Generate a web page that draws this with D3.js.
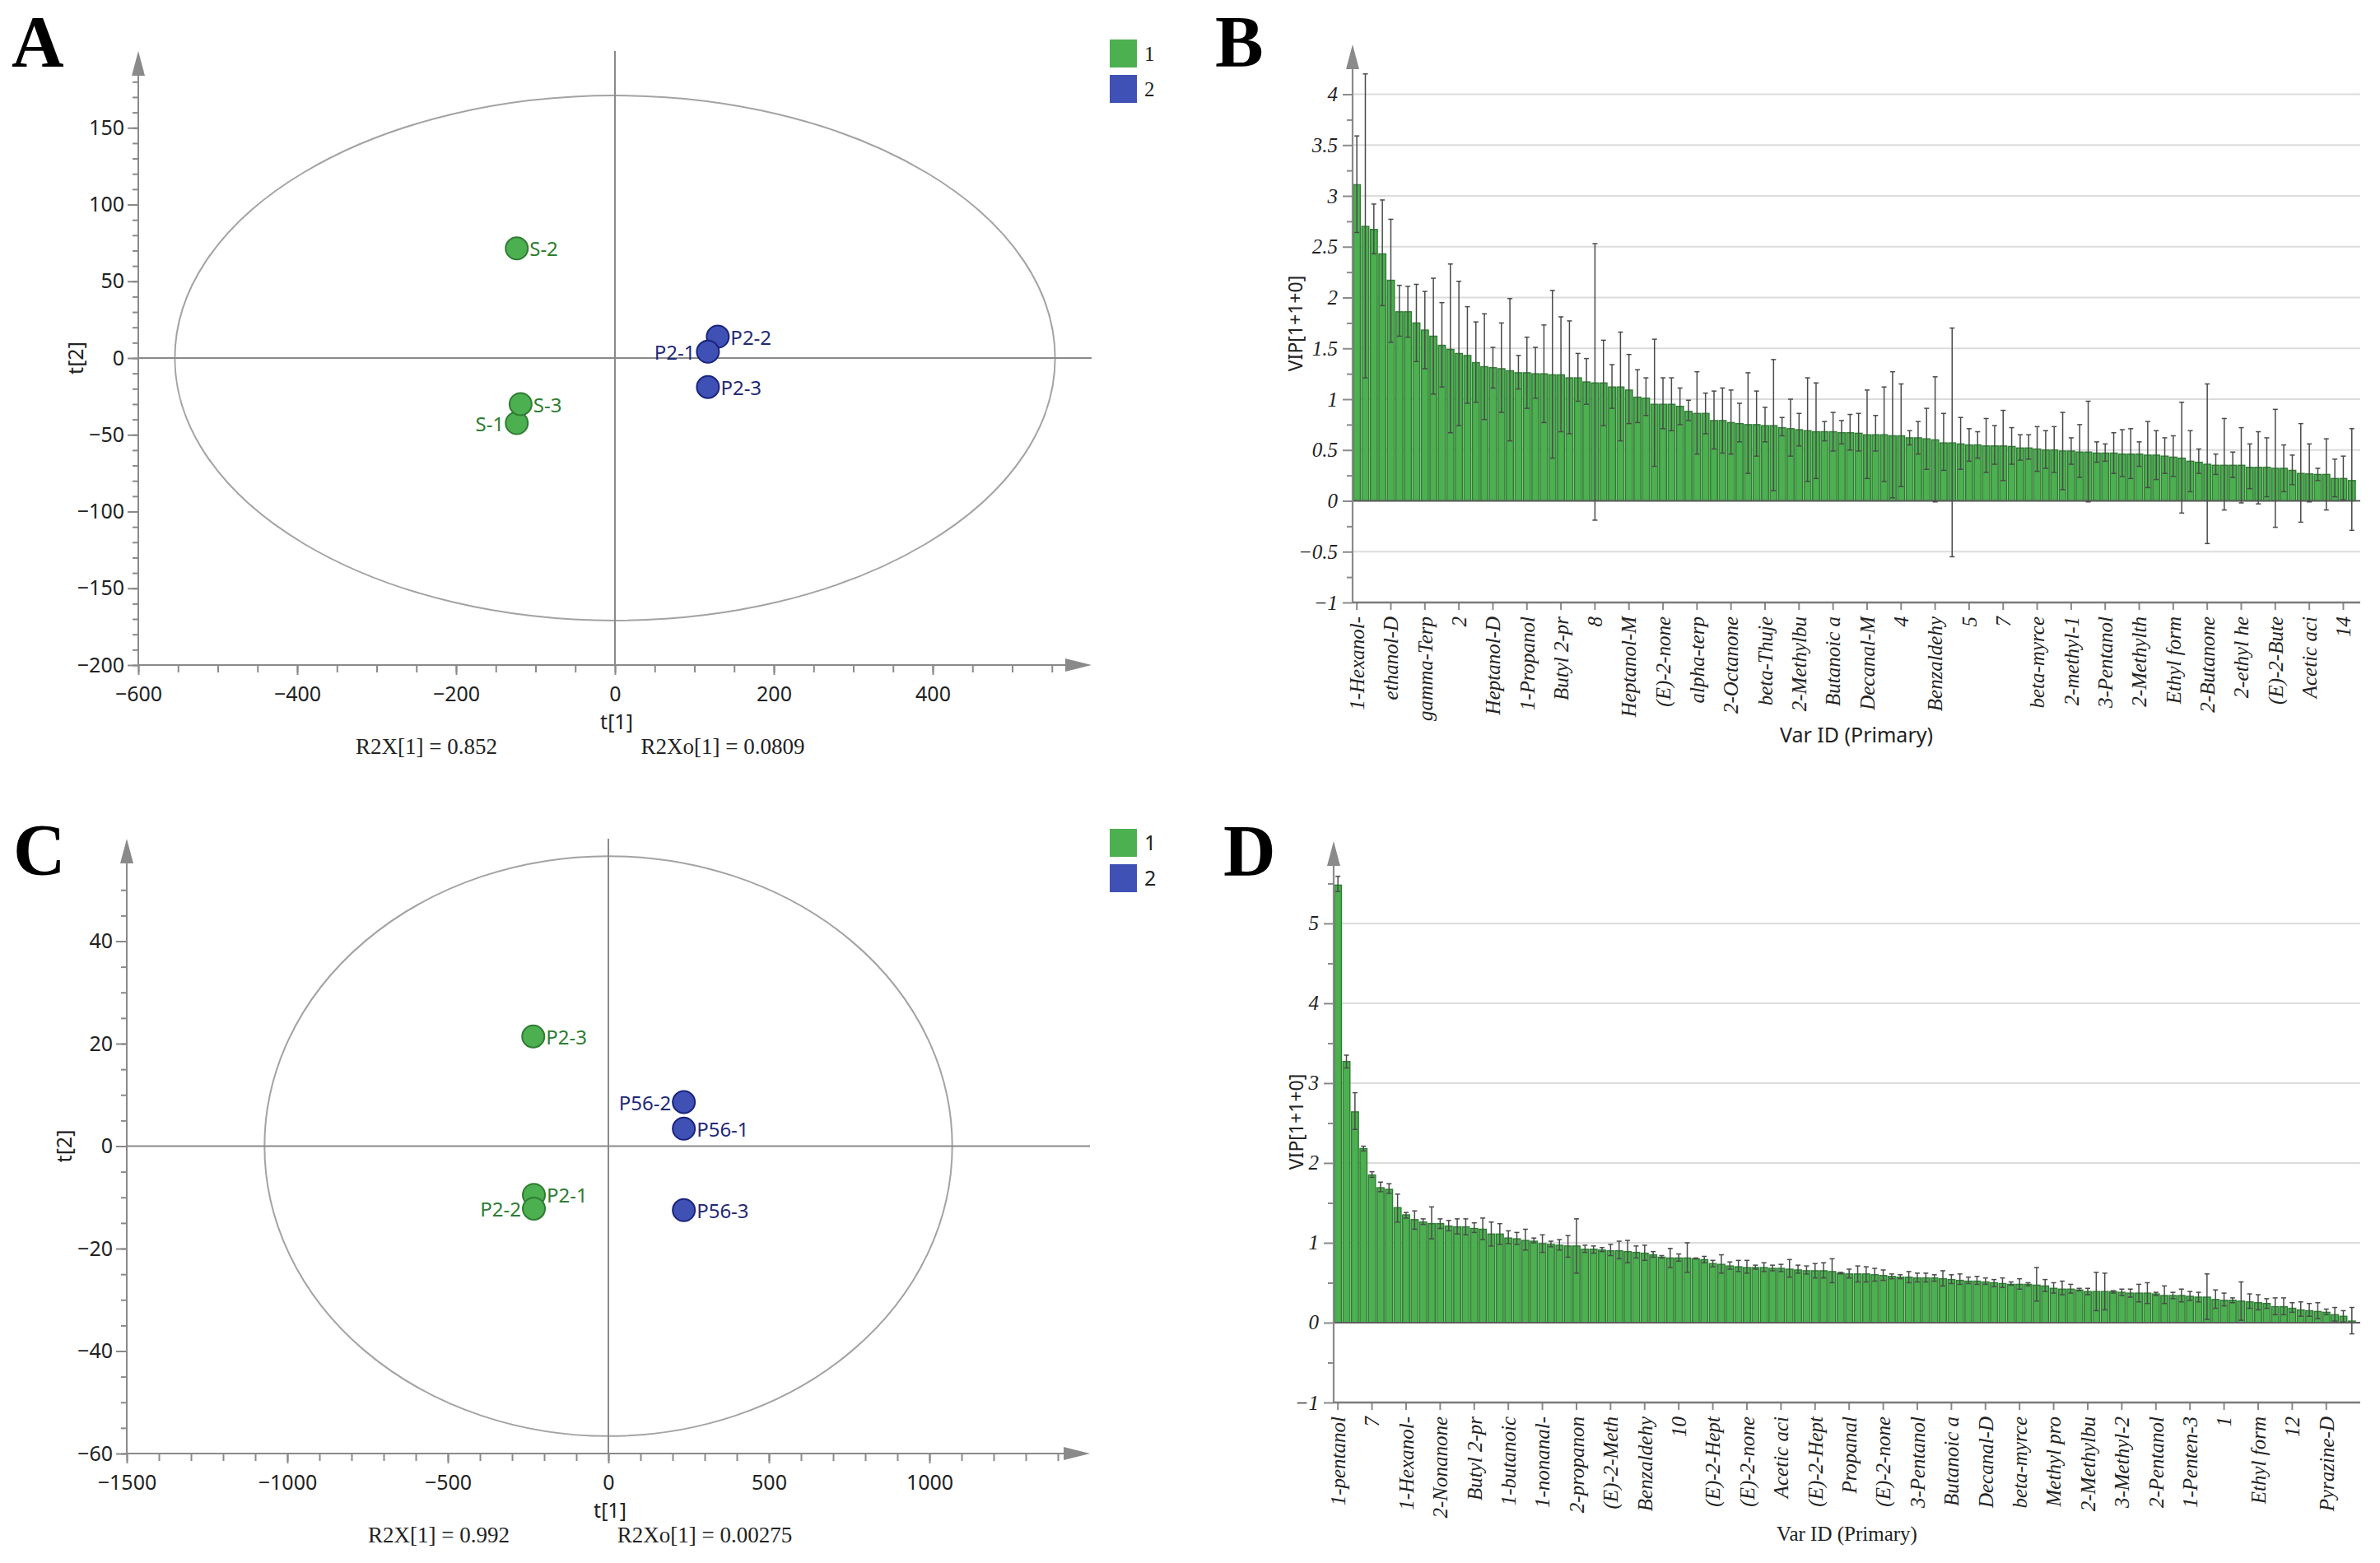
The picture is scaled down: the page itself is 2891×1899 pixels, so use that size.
<!DOCTYPE html>
<html>
<head>
<meta charset="utf-8">
<script src="https://cdn.jsdelivr.net/npm/d3@7"></script>
<style>
  body { margin: 0; background: #fff; }
</style>
</head>
<body>
<div id="chart"></div>
<script>
// ---------- data ----------
// A: OPLS-DA scores, S vs P2
var aNames = ['S-1', 'S-3', 'S-2', 'P2-2', 'P2-1', 'P2-3'];
var aT1 = [-123.6, -118.8, -123.6, 129.4, 117, 117];
var aT2 = [-42.4, -30, 71.4, 13.9, 4.1, -18.9];
var aGroup = [1, 1, 1, 2, 2, 2];
var aEllipse = [554, 171];          // T2 ellipse half axes (t1, t2)
var aR2 = ['R2X[1] = 0.852', 'R2Xo[1] = 0.0809'];

// C: OPLS-DA scores, P2 vs P56
var cNames = ['P2-3', 'P2-1', 'P2-2', 'P56-2', 'P56-1', 'P56-3'];
var cT1 = [-234, -232, -232, 235, 235, 235];
var cT2 = [21.4, -9.5, -12.2, 8.6, 3.4, -12.5];
var cGroup = [1, 1, 1, 2, 2, 2];
var cEllipse = [1071, 56.6];
var cR2 = ['R2X[1] = 0.992', 'R2Xo[1] = 0.00275'];

var legendGroups = ['1', '2'];

// B: VIP values with jack-knifed confidence limits
var bVip = [3.11, 2.70, 2.67, 2.43, 2.17, 1.86, 1.86, 1.75, 1.68, 1.62, 1.53, 1.49, 1.45, 1.43, 1.36, 1.32, 1.31, 1.30, 1.28, 1.26,
  1.26, 1.25, 1.25, 1.24, 1.24, 1.21, 1.21, 1.17, 1.16, 1.16, 1.12, 1.12, 1.09, 1.02, 1.01, 0.95, 0.95, 0.95, 0.93, 0.88,
  0.86, 0.86, 0.79, 0.79, 0.77, 0.76, 0.75, 0.75, 0.74, 0.74, 0.72, 0.71, 0.70, 0.69, 0.68, 0.68, 0.68, 0.67, 0.67, 0.665,
  0.65, 0.65, 0.65, 0.64, 0.64, 0.62, 0.62, 0.61, 0.60, 0.57, 0.57, 0.56, 0.55, 0.55, 0.54, 0.54, 0.54, 0.535, 0.52, 0.52,
  0.51, 0.50, 0.50, 0.49, 0.49, 0.48, 0.48, 0.47, 0.47, 0.47, 0.46, 0.46, 0.46, 0.45, 0.45, 0.44, 0.43, 0.42, 0.39, 0.38,
  0.36, 0.35, 0.35, 0.35, 0.35, 0.33, 0.33, 0.33, 0.32, 0.32, 0.30, 0.27, 0.265, 0.26, 0.26, 0.22, 0.22, 0.20];
var bHigh = [3.59, 4.20, 2.92, 2.96, 2.77, 2.12, 2.11, 2.13, 2.06, 2.19, 1.95, 2.33, 2.16, 1.91, 1.76, 1.84, 1.51, 1.75, 1.99, 1.43,
  1.61, 1.51, 1.73, 2.07, 1.81, 1.77, 1.45, 1.40, 2.53, 1.58, 1.34, 1.66, 1.44, 1.29, 1.21, 1.59, 1.21, 1.21, 1.11, 0.99,
  1.27, 1.06, 1.08, 1.11, 1.09, 0.96, 1.26, 1.08, 0.92, 1.39, 0.82, 1.00, 0.86, 1.21, 1.16, 0.78, 0.87, 0.79, 0.85, 0.86,
  1.09, 0.84, 1.12, 1.27, 1.15, 0.69, 0.78, 0.91, 1.22, 0.86, 1.70, 0.82, 0.71, 0.68, 0.81, 0.74, 0.89, 0.72, 0.65, 0.65,
  0.73, 0.69, 0.73, 0.87, 0.62, 0.75, 0.98, 0.58, 0.56, 0.67, 0.70, 0.71, 0.58, 0.78, 0.69, 0.62, 0.64, 0.97, 0.69, 0.51,
  1.15, 0.46, 0.81, 0.48, 0.72, 0.56, 0.68, 0.62, 0.90, 0.55, 0.45, 0.76, 0.56, 0.32, 0.61, 0.41, 0.44, 0.71];
var bLow = [2.64, 1.21, 2.43, 1.92, 1.56, 1.62, 1.61, 1.37, 1.30, 1.05, 1.12, 0.67, 0.74, 0.96, 0.97, 0.80, 1.11, 0.87, 0.59, 1.10,
  0.91, 1.01, 0.77, 0.42, 0.68, 0.66, 0.98, 0.95, -0.19, 0.74, 0.91, 0.59, 0.76, 0.77, 0.84, 0.34, 0.71, 0.69, 0.75, 0.79,
  0.46, 0.66, 0.51, 0.47, 0.46, 0.58, 0.27, 0.44, 0.58, 0.10, 0.64, 0.44, 0.54, 0.19, 0.22, 0.59, 0.49, 0.56, 0.50, 0.49,
  0.22, 0.49, 0.19, 0.03, 0.14, 0.55, 0.46, 0.31, -0.01, 0.30, -0.55, 0.31, 0.39, 0.42, 0.28, 0.36, 0.20, 0.36, 0.40, 0.41,
  0.29, 0.32, 0.28, 0.11, 0.36, 0.23, -0.01, 0.38, 0.39, 0.27, 0.24, 0.22, 0.34, 0.13, 0.21, 0.27, 0.24, -0.12, 0.09, 0.27,
  -0.42, 0.26, -0.09, 0.23, -0.02, 0.12, -0.03, 0.04, -0.26, 0.09, 0.16, -0.21, -0.01, 0.20, -0.09, 0.04, 0.01, -0.29];
var bTickLabels = ['1-Hexanol-', 'ethanol-D', 'gamma-Terp', '2', 'Heptanol-D', '1-Propanol', 'Butyl 2-pr', '8', 'Heptanol-M', '(E)-2-none',
  'alpha-terp', '2-Octanone', 'beta-Thuje', '2-Methylbu', 'Butanoic a', 'Decanal-M', '4', 'Benzaldehy', '5', '7',
  'beta-myrce', '2-methyl-1', '3-Pentanol', '2-Methylth', 'Ethyl form', '2-Butanone', '2-ethyl he', '(E)-2-Bute', 'Acetic aci', '14'];

// D: VIP values with jack-knifed confidence limits
var dVip = [5.48, 3.27, 2.64, 2.18, 1.85, 1.69, 1.67, 1.44, 1.35, 1.29, 1.26, 1.24, 1.24, 1.21, 1.20, 1.20, 1.18, 1.17, 1.11, 1.11,
  1.06, 1.05, 1.03, 1.02, 0.99, 0.98, 0.97, 0.96, 0.96, 0.92, 0.92, 0.91, 0.90, 0.90, 0.89, 0.88, 0.87, 0.85, 0.82, 0.81,
  0.81, 0.81, 0.80, 0.79, 0.74, 0.73, 0.71, 0.70, 0.69, 0.69, 0.69, 0.68, 0.68, 0.67, 0.66, 0.65, 0.65, 0.65, 0.64, 0.62,
  0.61, 0.61, 0.61, 0.60, 0.59, 0.58, 0.57, 0.57, 0.56, 0.56, 0.56, 0.55, 0.54, 0.53, 0.52, 0.52, 0.51, 0.50, 0.49, 0.48,
  0.48, 0.48, 0.47, 0.46, 0.43, 0.42, 0.42, 0.41, 0.39, 0.39, 0.39, 0.39, 0.38, 0.37, 0.37, 0.37, 0.36, 0.34, 0.34, 0.34,
  0.33, 0.32, 0.32, 0.29, 0.28, 0.28, 0.27, 0.26, 0.25, 0.24, 0.20, 0.20, 0.18, 0.16, 0.15, 0.14, 0.13, 0.10, 0.08, 0.02];
var dHigh = [5.59, 3.35, 2.88, 2.21, 1.89, 1.76, 1.74, 1.61, 1.38, 1.40, 1.30, 1.45, 1.30, 1.28, 1.30, 1.30, 1.25, 1.31, 1.26, 1.24,
  1.15, 1.13, 1.17, 1.06, 1.10, 1.02, 1.04, 1.09, 1.30, 0.97, 0.96, 0.94, 0.98, 1.02, 1.03, 0.96, 0.97, 0.89, 0.84, 0.93,
  0.86, 1.00, 0.81, 0.83, 0.78, 0.85, 0.76, 0.78, 0.78, 0.72, 0.75, 0.72, 0.73, 0.79, 0.72, 0.71, 0.74, 0.75, 0.80, 0.63,
  0.67, 0.71, 0.70, 0.68, 0.66, 0.61, 0.60, 0.64, 0.62, 0.62, 0.60, 0.65, 0.60, 0.61, 0.57, 0.58, 0.56, 0.54, 0.56, 0.51,
  0.55, 0.50, 0.69, 0.54, 0.50, 0.52, 0.48, 0.43, 0.43, 0.63, 0.62, 0.40, 0.42, 0.42, 0.48, 0.50, 0.38, 0.46, 0.38, 0.42,
  0.39, 0.38, 0.61, 0.41, 0.37, 0.31, 0.51, 0.36, 0.35, 0.30, 0.31, 0.31, 0.25, 0.26, 0.24, 0.25, 0.17, 0.19, 0.15, 0.19];
var dLow = [5.40, 3.19, 2.42, 2.15, 1.82, 1.64, 1.62, 1.26, 1.31, 1.17, 1.23, 1.05, 1.18, 1.15, 1.11, 1.10, 1.13, 1.04, 0.96, 0.98,
  0.99, 0.98, 0.91, 1.00, 0.88, 0.95, 0.91, 0.82, 0.62, 0.88, 0.87, 0.89, 0.84, 0.80, 0.75, 0.81, 0.78, 0.82, 0.81, 0.69,
  0.77, 0.63, 0.80, 0.75, 0.70, 0.62, 0.67, 0.64, 0.62, 0.67, 0.64, 0.65, 0.64, 0.57, 0.62, 0.61, 0.56, 0.56, 0.50, 0.61,
  0.56, 0.51, 0.51, 0.52, 0.53, 0.55, 0.55, 0.50, 0.51, 0.51, 0.52, 0.46, 0.49, 0.48, 0.49, 0.48, 0.48, 0.45, 0.44, 0.47,
  0.42, 0.46, 0.27, 0.39, 0.37, 0.35, 0.37, 0.40, 0.35, 0.15, 0.16, 0.37, 0.34, 0.32, 0.26, 0.24, 0.34, 0.24, 0.30, 0.26,
  0.28, 0.26, 0.04, 0.18, 0.21, 0.25, 0.03, 0.18, 0.16, 0.18, 0.10, 0.10, 0.13, 0.08, 0.08, 0.05, 0.10, 0.02, 0.01, -0.14];
var dTickLabels = ['1-pentanol', '7', '1-Hexanol-', '2-Nonanone', 'Butyl 2-pr', '1-butanoic', '1-nonanal-', '2-propanon', '(E)-2-Meth', 'Benzaldehy',
  '10', '(E)-2-Hept', '(E)-2-none', 'Acetic aci', '(E)-2-Hept', 'Propanal', '(E)-2-none', '3-Pentanol', 'Butanoic a', 'Decanal-D',
  'beta-myrce', 'Methyl pro', '2-Methylbu', '3-Methyl-2', '2-Pentanol', '1-Penten-3', '1', 'Ethyl form', '12', 'Pyrazine-D'];

// ---------- style ----------
var SANS = '"Noto Sans", "Open Sans", sans-serif';
var SERIF = '"Liberation Serif", "DejaVu Serif", serif';
var axisC = '#8a8a8a';
var fillC = {1: '#4caf50', 2: '#3f51b5'};
var edgeC = {1: '#2e7d32', 2: '#1a237e'};
var textC = {1: '#2e7d32', 2: '#1f2a78'};
var barFill = '#4caf50', barEdge = '#2e7d32';

var svg = d3.select('#chart').append('svg')
  .attr('width', 2891).attr('height', 1899)
  .style('background', '#fff');

function minus(v) {
  return (v < 0 ? '\u2212' : '') + Math.abs(+v.toFixed(2));
}

// arrow head pointing up (dir='up') or right
function arrow(g, x, y, dir) {
  var p = dir === 'up'
    ? [[x, y], [x - 8, y + 30], [x + 8, y + 30]]
    : [[x, y], [x - 32, y - 8], [x - 32, y + 8]];
  g.append('path').attr('d', 'M' + p.join('L') + 'Z').attr('fill', axisC);
}

function styleAxis(g, font, size, italic) {
  g.select('.domain').remove();
  g.selectAll('line').attr('stroke', axisC).attr('stroke-width', 2);
  g.selectAll('text').attr('fill', '#222')
    .attr('font-family', font).attr('font-size', size)
    .attr('font-style', italic ? 'italic' : 'normal');
}

// ---------- score plot (A, C) ----------
function scorePlot(o) {
  var g = svg.append('g');
  var x = d3.scaleLinear().domain(o.xDomain).range(o.xRange);
  var y = d3.scaleLinear().domain(o.yDomain).range(o.yRange);
  var left = o.xRange[0], right = o.xRange[1], bottom = o.yRange[0], top = o.yRange[1];

  // Hotelling T2 ellipse
  g.append('ellipse')
    .attr('cx', x(0)).attr('cy', y(0))
    .attr('rx', x(o.ellipse[0]) - x(0)).attr('ry', y(0) - y(o.ellipse[1]))
    .attr('fill', 'none').attr('stroke', '#a3a3a3').attr('stroke-width', 2);

  // zero lines
  g.append('line').attr('x1', x(0)).attr('y1', top).attr('x2', x(0)).attr('y2', bottom)
    .attr('stroke', axisC).attr('stroke-width', 2);
  g.append('line').attr('x1', left).attr('y1', y(0)).attr('x2', right).attr('y2', y(0))
    .attr('stroke', axisC).attr('stroke-width', 2);

  // axis lines + arrows
  g.append('line').attr('x1', left).attr('y1', bottom).attr('x2', right - 30).attr('y2', bottom)
    .attr('stroke', axisC).attr('stroke-width', 2);
  g.append('line').attr('x1', left).attr('y1', bottom).attr('x2', left).attr('y2', top + 30)
    .attr('stroke', axisC).attr('stroke-width', 2);
  arrow(g, right, bottom, 'right');
  arrow(g, left, top, 'up');

  // ticks
  var xMinor = d3.range(o.xDomain[0], o.xDomain[1], o.xStep[1]).filter(function (v) { return x(v) < right - 36; });
  var yMinor = d3.range(o.yDomain[0], o.yDomain[1], o.yStep[1]).filter(function (v) { return y(v) > top + 36; });
  var xMajor = xMinor.filter(function (v) { return Math.abs(v % o.xStep[0]) < 1e-6; });
  var yMajor = yMinor.filter(function (v) { return Math.abs(v % o.yStep[0]) < 1e-6; });

  var gx = g.append('g').attr('transform', 'translate(0,' + bottom + ')');
  gx.call(d3.axisBottom(x).tickValues(xMinor).tickSize(9).tickFormat(''));
  styleAxis(gx);
  var gx2 = g.append('g').attr('transform', 'translate(0,' + bottom + ')');
  gx2.call(d3.axisBottom(x).tickValues(xMajor).tickSize(12).tickPadding(14).tickFormat(d3.format('')));
  styleAxis(gx2, SANS, 25);

  var gy = g.append('g').attr('transform', 'translate(' + left + ',0)');
  gy.call(d3.axisLeft(y).tickValues(yMinor).tickSize(7).tickFormat(''));
  styleAxis(gy);
  var gy2 = g.append('g').attr('transform', 'translate(' + left + ',0)');
  gy2.call(d3.axisLeft(y).tickValues(yMajor).tickSize(13).tickPadding(4).tickFormat(d3.format('')));
  styleAxis(gy2, SANS, 25);

  // axis titles
  g.append('text').text('t[2]')
    .attr('transform', 'translate(' + (left - 76) + ',' + y(0) + ') rotate(-90)')
    .attr('text-anchor', 'middle').attr('dy', '0.35em')
    .attr('font-family', SANS).attr('font-size', 25).attr('fill', '#222');
  g.append('text').text('t[1]')
    .attr('x', x(0) + 2).attr('y', bottom + 78)
    .attr('text-anchor', 'middle')
    .attr('font-family', SANS).attr('font-size', 25).attr('fill', '#222');
  g.selectAll('.r2').data(o.r2).enter().append('text')
    .text(function (d) { return d; })
    .attr('x', function (d, i) { return o.r2x[i]; }).attr('y', bottom + 108)
    .attr('text-anchor', 'middle')
    .attr('font-family', SERIF).attr('font-size', 27).attr('fill', '#222');

  // points
  var r = 13.5;
  var pts = g.selectAll('.pt').data(o.names).enter().append('g');
  pts.append('circle')
    .attr('cx', function (d, i) { return x(o.t1[i]); })
    .attr('cy', function (d, i) { return y(o.t2[i]); })
    .attr('r', r)
    .attr('fill', function (d, i) { return fillC[o.group[i]]; })
    .attr('stroke', function (d, i) { return edgeC[o.group[i]]; })
    .attr('stroke-width', 2);
  pts.append('text').text(function (d) { return d; })
    .attr('x', function (d, i) { return o.leftLabels.indexOf(d) >= 0 ? x(o.t1[i]) - r - 2 : x(o.t1[i]) + r + 2; })
    .attr('y', function (d, i) { return y(o.t2[i]); })
    .attr('dy', '0.4em')
    .attr('text-anchor', function (d) { return o.leftLabels.indexOf(d) >= 0 ? 'end' : 'start'; })
    .attr('font-family', SANS).attr('font-size', 24)
    .attr('fill', function (d, i) { return textC[o.group[i]]; });

  // legend
  var lg = g.selectAll('.lg').data(legendGroups).enter().append('g');
  lg.append('rect')
    .attr('x', 1348).attr('y', function (d, i) { return o.legendY + i * 43; })
    .attr('width', 33).attr('height', 34)
    .attr('fill', function (d) { return fillC[d]; });
  lg.append('text').text(function (d) { return d; })
    .attr('x', 1390).attr('y', function (d, i) { return o.legendY + i * 43 + 26; })
    .attr('font-family', o.legendFont).attr('font-size', 25).attr('fill', '#222');

  // panel letter
  g.append('text').text(o.letter)
    .attr('x', o.letterPos[0]).attr('y', o.letterPos[1])
    .attr('font-family', SERIF).attr('font-weight', 'bold').attr('font-size', 88).attr('fill', '#000');
}

// ---------- VIP bar plot (B, D) ----------
function vipPlot(o) {
  var g = svg.append('g');
  var n = o.vip.length;
  var idx = d3.range(n);
  var x = d3.scaleBand().domain(idx).range([o.left, o.left + n * o.bw]).paddingInner(0);
  var y = d3.scaleLinear().domain(o.yDomain).range(o.yRange);
  var bottom = o.yRange[0], top = o.yRange[1], right = 2867;

  // grid lines at labelled ticks
  var major = d3.range(o.yDomain[0], o.yMax + 1e-6, o.yStep[0]).map(function (v) { return +v.toFixed(2); });
  var minor = d3.range(o.yDomain[0], o.yMinorMax + 1e-6, o.yStep[1]).map(function (v) { return +v.toFixed(2); });
  g.selectAll('.grid').data(major.filter(function (v) { return v !== 0 && v !== o.yDomain[0]; }))
    .enter().append('line')
    .attr('x1', o.left).attr('x2', right)
    .attr('y1', function (d) { return y(d); }).attr('y2', function (d) { return y(d); })
    .attr('stroke', '#dcdcdc').attr('stroke-width', 2);

  // bars
  g.selectAll('.bar').data(o.vip).enter().append('rect')
    .attr('x', function (d, i) { return x(i) + 0.9; })
    .attr('width', x.bandwidth() - 1.8)
    .attr('y', function (d) { return y(Math.max(0, d)); })
    .attr('height', function (d) { return Math.abs(y(d) - y(0)); })
    .attr('fill', barFill).attr('stroke', barEdge).attr('stroke-width', 1.4);

  // zero line
  g.append('line').attr('x1', o.left).attr('x2', right).attr('y1', y(0)).attr('y2', y(0))
    .attr('stroke', '#5c5c5c').attr('stroke-width', 2.2);

  // error bars
  var cx = function (i) { return x(i) + x.bandwidth() / 2; };
  var eb = g.selectAll('.err').data(o.vip).enter().append('g')
    .attr('stroke', '#4a4a4a').attr('stroke-width', 1.5);
  eb.append('line')
    .attr('x1', function (d, i) { return cx(i); }).attr('x2', function (d, i) { return cx(i); })
    .attr('y1', function (d, i) { return y(o.high[i]); }).attr('y2', function (d, i) { return y(o.low[i]); });
  eb.append('line')
    .attr('x1', function (d, i) { return cx(i) - 3; }).attr('x2', function (d, i) { return cx(i) + 3; })
    .attr('y1', function (d, i) { return y(o.high[i]); }).attr('y2', function (d, i) { return y(o.high[i]); });
  eb.append('line')
    .attr('x1', function (d, i) { return cx(i) - 3; }).attr('x2', function (d, i) { return cx(i) + 3; })
    .attr('y1', function (d, i) { return y(o.low[i]); }).attr('y2', function (d, i) { return y(o.low[i]); });

  // y axis
  var gy = g.append('g').attr('transform', 'translate(' + o.left + ',0)');
  gy.call(d3.axisLeft(y).tickValues(minor.filter(function (v) { return major.indexOf(v) < 0; })).tickSize(7).tickFormat(''));
  styleAxis(gy);
  var gy2 = g.append('g').attr('transform', 'translate(' + o.left + ',0)');
  gy2.call(d3.axisLeft(y).tickValues(major).tickSize(12).tickPadding(6).tickFormat(minus));
  styleAxis(gy2, SERIF, 25, true);
  g.append('line').attr('x1', o.left).attr('x2', o.left).attr('y1', bottom).attr('y2', top + 30)
    .attr('stroke', axisC).attr('stroke-width', 2.2);
  arrow(g, o.left, top, 'up');

  // x axis with every 4th variable labelled
  var gx = g.append('g').attr('transform', 'translate(0,' + bottom + ')');
  gx.call(d3.axisBottom(x)
    .tickValues(o.labels.map(function (d, i) { return i * 4; }))
    .tickSize(9)
    .tickFormat(function (d) { return o.labels[d / 4]; }));
  styleAxis(gx, SERIF, 25, true);
  gx.selectAll('text')
    .attr('transform', 'rotate(-90)')
    .attr('x', -17).attr('y', 0).attr('dy', '0.35em')
    .attr('text-anchor', 'end');
  g.append('line').attr('x1', o.left).attr('x2', right).attr('y1', bottom).attr('y2', bottom)
    .attr('stroke', '#7a7a7a').attr('stroke-width', 2.5);

  // titles
  g.append('text').text('VIP[1+1+0]')
    .attr('transform', 'translate(' + o.yTitleX + ',' + ((y(o.yDomain[0]) + top) / 2) + ') rotate(-90)')
    .attr('text-anchor', 'middle').attr('dy', '0.35em')
    .attr('font-family', SANS).attr('font-size', 23).attr('fill', '#222');
  g.append('text').text('Var ID (Primary)')
    .attr('x', (o.left + right) / 2).attr('y', o.xTitleY)
    .attr('text-anchor', 'middle')
    .attr('font-family', o.xTitleFont).attr('font-size', 25).attr('fill', '#222');

  g.append('text').text(o.letter)
    .attr('x', o.letterPos[0]).attr('y', o.letterPos[1])
    .attr('font-family', SERIF).attr('font-weight', 'bold').attr('font-size', 88).attr('fill', '#000');
}

scorePlot({
  names: aNames, t1: aT1, t2: aT2, group: aGroup, ellipse: aEllipse, r2: aR2,
  xDomain: [-600, 600], xRange: [168, 1326], xStep: [200, 50],
  yDomain: [-200, 200], yRange: [808, 62], yStep: [50, 10],
  leftLabels: ['S-1', 'P2-1'], r2x: [518, 878],
  legendY: 48, legendFont: SERIF, letter: 'A', letterPos: [14, 80]
});

scorePlot({
  names: cNames, t1: cT1, t2: cT2, group: cGroup, ellipse: cEllipse, r2: cR2,
  xDomain: [-1500, 1500], xRange: [154, 1324], xStep: [500, 100],
  yDomain: [-60, 60], yRange: [1766, 1019], yStep: [20, 5],
  leftLabels: ['P2-2', 'P56-2'], r2x: [533, 856],
  legendY: 1007, legendFont: SANS, letter: 'C', letterPos: [16, 1062]
});

vipPlot({
  vip: bVip, high: bHigh, low: bLow, labels: bTickLabels,
  left: 1643, bw: 10.33,
  yDomain: [-1, 4.49], yRange: [732, 54], yMax: 4, yMinorMax: 4, yStep: [0.5, 0.25],
  yTitleX: 1574, xTitleY: 902, xTitleFont: SANS, letter: 'B', letterPos: [1476, 80]
});

vipPlot({
  vip: dVip, high: dHigh, low: dLow, labels: dTickLabels,
  left: 1620, bw: 10.35,
  yDomain: [-1, 6.03], yRange: [1704, 1022], yMax: 5, yMinorMax: 5.5, yStep: [1, 0.5],
  yTitleX: 1575, xTitleY: 1872, xTitleFont: SERIF, letter: 'D', letterPos: [1486, 1063]
});
</script>
</body>
</html>
